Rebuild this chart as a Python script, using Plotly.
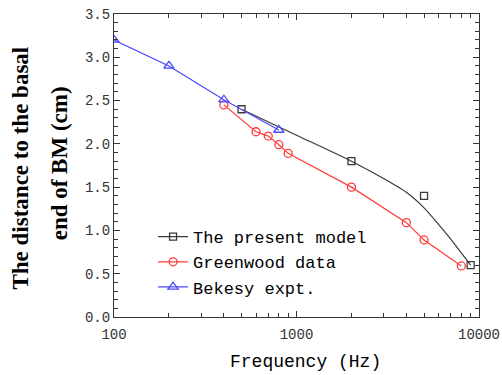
import plotly.graph_objects as go

# Data
model_freq = [500, 2000, 5000, 9000]
model_dist = [2.4, 1.8, 1.4, 0.6]

model_curve_freq = [500, 1000, 2000, 3000, 4000, 5000, 6000, 7000, 8000, 9000]
model_curve_dist = [2.4, 2.1, 1.8, 1.6, 1.44, 1.26, 1.07, 0.9, 0.74, 0.6]

green_freq = [400, 600, 700, 800, 900, 2000, 4000, 5000, 8000]
green_dist = [2.45, 2.14, 2.09, 1.99, 1.89, 1.5, 1.09, 0.89, 0.59]

bek_freq = [100, 200, 400, 800]
bek_dist = [3.2, 2.9, 2.51, 2.16]

x_ticks = [100, 1000, 10000]
x_minor = [200, 300, 400, 500, 600, 700, 800, 900,
           2000, 3000, 4000, 5000, 6000, 7000, 8000, 9000]
y_ticks = [0.0, 0.5, 1.0, 1.5, 2.0, 2.5, 3.0, 3.5]

x_title = "Frequency (Hz)"
y_title_lines = ["The distance to the basal", "end of BM (cm)"]

BLACK = "#3a3a3a"
RED = "#ff3b3b"
BLUE = "#4a4aff"
MONO = "Liberation Mono, Courier New, monospace"
SERIF = "Liberation Serif, Times New Roman, serif"

fig = go.Figure()

fig.add_trace(go.Scatter(x=model_curve_freq, y=model_curve_dist, mode="lines",
                         line=dict(color=BLACK, width=1.2, shape="spline", smoothing=0.7),
                         showlegend=False, hoverinfo="skip"))
fig.add_trace(go.Scatter(x=model_freq, y=model_dist, mode="markers",
                         marker=dict(symbol="square-open", size=7, color=BLACK, line=dict(width=1.3)),
                         showlegend=False))
fig.add_trace(go.Scatter(x=[None], y=[None], mode="lines+markers", name="The present model",
                         line=dict(color=BLACK, width=1.2),
                         marker=dict(symbol="square-open", size=7, color=BLACK, line=dict(width=1.3))))
fig.add_trace(go.Scatter(x=green_freq, y=green_dist, mode="lines+markers", name="Greenwood data",
                         line=dict(color=RED, width=1.2),
                         marker=dict(symbol="circle-open", size=8, color=RED, line=dict(width=1.3))))
fig.add_trace(go.Scatter(x=bek_freq, y=bek_dist, mode="lines+markers", name="Bekesy expt.",
                         line=dict(color=BLUE, width=1.2),
                         marker=dict(symbol="triangle-up-open", size=9, color=BLUE, line=dict(width=1.3))))

axis_common = dict(ticks="inside", ticklen=6, tickcolor="#333", showline=True, linecolor="#333",
                   linewidth=1.2, mirror="ticks", showgrid=False, zeroline=False, automargin=False,
                   tickfont=dict(family=MONO, size=14, color="#333"))

fig.update_layout(
    width=502, height=375,
    margin=dict(l=114, r=23, t=14, b=58),
    paper_bgcolor="white", plot_bgcolor="white",
    showlegend=True,
    legend=dict(x=0.107, y=0.323, xanchor="left", yanchor="top",
                font=dict(family=MONO, size=17, color="black"),
                bgcolor="rgba(0,0,0,0)", itemwidth=30),
    xaxis=dict(type="log", range=[2, 4], tickmode="array", tickvals=x_ticks,
               ticktext=[str(v) for v in x_ticks], ticklabelstandoff=4,
               minor=dict(tickmode="array", tickvals=x_minor, ticks="inside", ticklen=4,
                          tickcolor="#333", showgrid=False),
               **axis_common),
    yaxis=dict(range=[0, 3.5], tickmode="array", tickvals=y_ticks,
               ticktext=[f"{v:.1f}" for v in y_ticks],
               minor=dict(tickmode="linear", tick0=0, dtick=0.1, ticks="inside", ticklen=4,
                          tickcolor="#333", showgrid=False),
               **axis_common),
    annotations=[
        dict(text=x_title, xref="paper", yref="paper", x=0.525, y=-0.148,
             xanchor="center", yanchor="middle", showarrow=False,
             font=dict(family=MONO, size=18, color="black")),
        dict(text=y_title_lines[0], xref="paper", yref="paper", x=-0.255, y=0.493,
             xanchor="center", yanchor="middle", showarrow=False, textangle=-90,
             font=dict(family=SERIF, size=23, color="black", weight="bold")),
        dict(text=y_title_lines[1], xref="paper", yref="paper", x=-0.15, y=0.508,
             xanchor="center", yanchor="middle", showarrow=False, textangle=-90,
             font=dict(family=SERIF, size=23, color="black", weight="bold")),
    ],
)

fig.write_html("out.html")
